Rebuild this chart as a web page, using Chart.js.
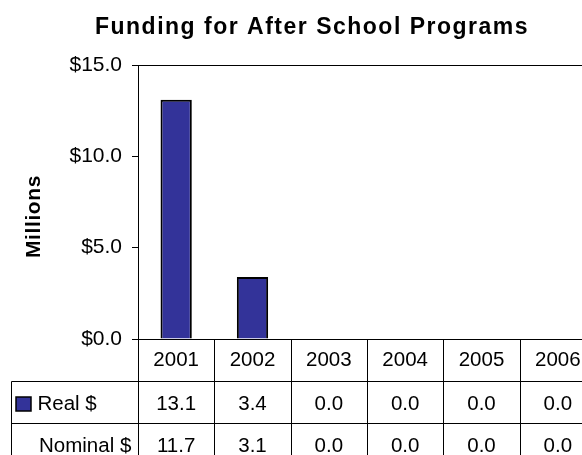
<!DOCTYPE html>
<html><head><meta charset="utf-8">
<script src="https://cdn.jsdelivr.net/npm/chart.js@4"></script>
<style>
html,body{margin:0;padding:0;overflow:hidden;background:#fff;width:582px;height:455px}
#wrap{width:600px;height:455px;position:relative}
</style></head>
<body><div id="wrap"><canvas id="c" width="600" height="455"></canvas></div>
<script>
const chartTitle = 'Funding for After School Programs';
const yAxisTitle = 'Millions';
const categories = ['2001', '2002', '2003', '2004', '2005', '2006'];
const seriesNames = ['Real $', 'Nominal $'];
const realValues = [13.1, 3.4, 0.0, 0.0, 0.0, 0.0];
const nominalValues = [11.7, 3.1, 0.0, 0.0, 0.0, 0.0];
const yTickValues = [0, 5, 10, 15];

const FONT = '"Liberation Sans", Arial, sans-serif';
const BAR_COLOR = '#333399';

function seg(ctx, x1, y1, x2, y2) {
  ctx.beginPath(); ctx.moveTo(x1, y1); ctx.lineTo(x2, y2); ctx.stroke();
}

const decorPlugin = {
  id: 'decor',
  afterDraw(chart) {
    const ctx = chart.ctx, a = chart.chartArea, x = chart.scales.x;
    ctx.save();
    // title
    ctx.fillStyle = '#000';
    ctx.font = 'bold 23px ' + FONT;
    ctx.letterSpacing = '1.5px';
    ctx.textAlign = 'center';
    ctx.textBaseline = 'alphabetic';
    ctx.fillText(chartTitle, 312, 33.5);
    // y axis title
    ctx.save();
    ctx.translate(40, 216.5);
    ctx.rotate(-Math.PI / 2);
    ctx.font = 'bold 21px ' + FONT;
    ctx.letterSpacing = '0.6px';
    ctx.textAlign = 'center';
    ctx.fillText(yAxisTitle, 0, 0);
    ctx.restore();
    ctx.letterSpacing = '0px';

    // frame
    ctx.strokeStyle = '#000';
    ctx.lineWidth = 1;
    const L = Math.round(a.left) + 0.5, T = Math.round(a.top) + 0.5;
    const R = Math.round(a.right) + 0.5, B = Math.round(a.bottom) + 0.5;
    seg(ctx, L, T, R, T);
    seg(ctx, R, T, R, B);
    seg(ctx, L - 6, B, R, B);

    // data table
    const step = x.getPixelForValue(1) - x.getPixelForValue(0);
    const rowH = 42;
    const tableLeft = 11.5;
    const r1 = B + rowH, r2 = B + 2 * rowH, r3 = B + 3 * rowH;
    seg(ctx, tableLeft, r1, R, r1);
    seg(ctx, tableLeft, r2, R, r2);
    seg(ctx, tableLeft, r3, R, r3);
    seg(ctx, L, B, L, r3);
    seg(ctx, tableLeft, r1, tableLeft, r3);
    categories.forEach((c, i) => {
      const xr = Math.round(x.getPixelForValue(i) + step / 2) + 0.5;
      seg(ctx, xr, B, xr, r3);
    });

    ctx.fillStyle = '#000';
    ctx.font = '20.5px ' + FONT;
    ctx.textAlign = 'center';
    const baselines = [B + 26, B + 70, B + 112];
    categories.forEach((c, i) => {
      ctx.fillText(c, x.getPixelForValue(i), baselines[0]);
    });
    chart.data.datasets.forEach((ds, di) => {
      ds.data.forEach((v, i) => {
        ctx.fillText(v.toFixed(1), x.getPixelForValue(i), baselines[di + 1]);
      });
    });
    // row labels
    ctx.textAlign = 'left';
    ctx.fillText(seriesNames[0], 37.5, baselines[1]);
    ctx.fillText(seriesNames[1], 39, baselines[2]);
    // legend key for Real $
    ctx.fillStyle = BAR_COLOR;
    ctx.fillRect(16, 397, 15, 14);
    ctx.lineWidth = 1.5;
    ctx.strokeRect(16, 397, 15, 14);
    ctx.restore();
  }
};

new Chart(document.getElementById('c'), {
  data: {
    labels: categories,
    datasets: [
      {
        type: 'bar',
        label: seriesNames[0],
        data: realValues,
        backgroundColor: BAR_COLOR,
        borderColor: '#000',
        borderWidth: 2,
        barPercentage: 0.41,
        categoryPercentage: 1.0,
        order: 1
      },
      {
        type: 'line',
        label: seriesNames[1],
        data: nominalValues,
        showLine: false,
        pointRadius: 0,
        pointHoverRadius: 0,
        borderColor: 'rgba(0,0,0,0)',
        backgroundColor: 'rgba(0,0,0,0)',
        order: 2
      }
    ]
  },
  options: {
    responsive: false,
    animation: false,
    devicePixelRatio: 1,
    layout: { padding: { top: 65, bottom: 116, left: 0, right: 4 } },
    plugins: {
      legend: { display: false },
      title: { display: false },
      tooltip: { enabled: false }
    },
    scales: {
      x: {
        type: 'category',
        display: false,
        offset: true
      },
      y: {
        min: 0,
        max: 15,
        afterBuildTicks: s => { s.ticks = yTickValues.map(v => ({ value: v })); },
        afterFit: s => { s.width = 138; },
        ticks: {
          color: '#000',
          font: { family: FONT, size: 21 },
          padding: 10,
          callback: v => '$' + Number(v).toFixed(1)
        },
        grid: {
          drawOnChartArea: false,
          drawTicks: true,
          tickLength: 6,
          color: '#000'
        },
        border: { display: true, color: '#000', width: 1 }
      }
    }
  },
  plugins: [decorPlugin]
});
</script>
</body></html>
